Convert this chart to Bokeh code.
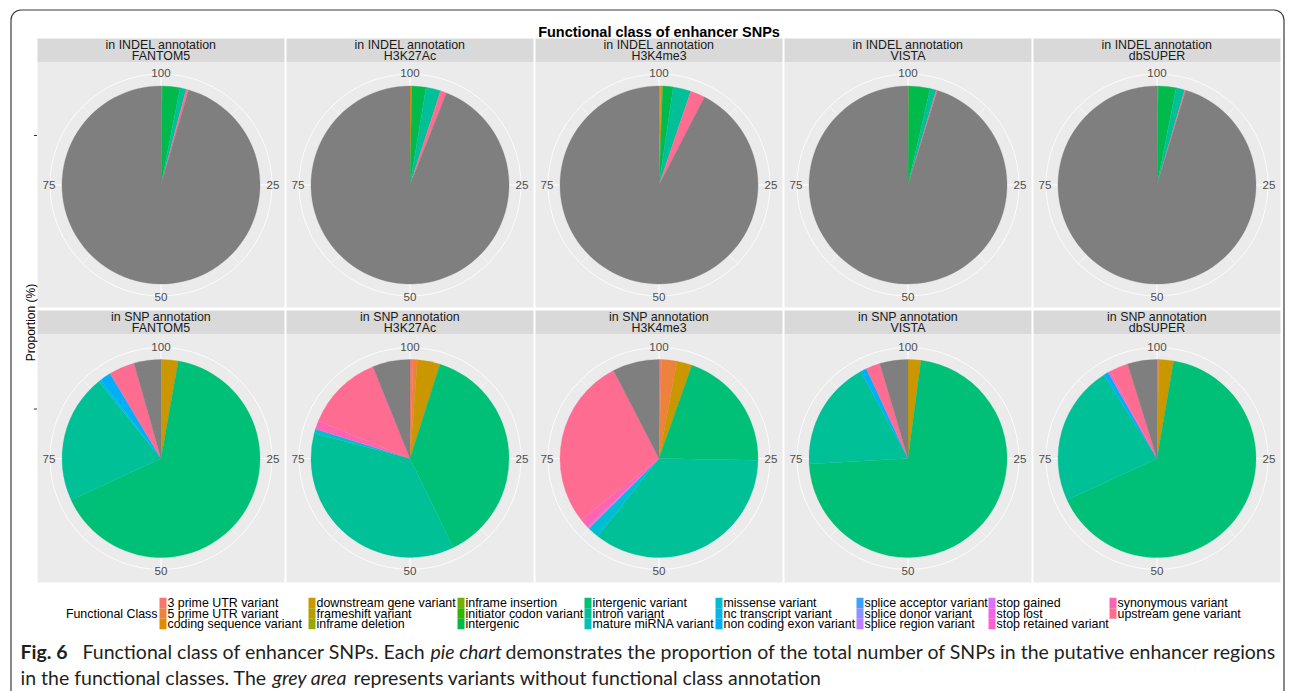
import math
from bokeh.plotting import figure
from bokeh.models import Range1d
from bokeh.core.properties import value
from bokeh.embed import file_html
from bokeh.resources import INLINE

# ---------------- data ----------------
categories = [
    "3 prime UTR variant", "5 prime UTR variant", "coding sequence variant",
    "downstream gene variant", "frameshift variant", "inframe deletion",
    "inframe insertion", "initiator codon variant", "intergenic",
    "intergenic variant", "intron variant", "mature miRNA variant",
    "missense variant", "nc transcript variant", "non coding exon variant",
    "splice acceptor variant", "splice donor variant", "splice region variant",
    "stop gained", "stop lost", "stop retained variant",
    "synonymous variant", "upstream gene variant",
]
databases = ["FANTOM5", "H3K27Ac", "H3K4me3", "VISTA", "dbSUPER"]
annotations = ["in INDEL annotation", "in SNP annotation"]
theta_breaks = [0, 25, 50, 75]
theta_labels = ["100", "25", "50", "75"]

# proportion (%) per functional class; "NA" = no functional class (grey)
indel_fantom5 = {"coding sequence variant": 0.2, "intergenic": 2.9, "intron variant": 1.0,
                 "upstream gene variant": 0.4, "NA": 95.5}
indel_h3k27ac = {"coding sequence variant": 0.3, "intergenic": 2.3, "intron variant": 2.4,
                 "upstream gene variant": 1.0, "NA": 94.0}
indel_h3k4me3 = {"5 prime UTR variant": 0.3, "downstream gene variant": 0.3, "intergenic": 1.7,
                 "intron variant": 2.9, "upstream gene variant": 2.4, "NA": 92.4}
indel_vista = {"coding sequence variant": 0.1, "intergenic": 3.5, "intron variant": 1.0,
               "upstream gene variant": 0.2, "NA": 95.2}
indel_dbsuper = {"coding sequence variant": 0.2, "intergenic": 2.9, "intron variant": 1.4,
                 "upstream gene variant": 0.2, "NA": 95.3}

snp_fantom5 = {"3 prime UTR variant": 0.1, "downstream gene variant": 2.7, "intergenic variant": 65.3,
               "intron variant": 21.1, "missense variant": 0.4, "non coding exon variant": 1.8,
               "upstream gene variant": 4.2, "NA": 4.4}
snp_h3k27ac = {"3 prime UTR variant": 0.5, "5 prime UTR variant": 0.7, "downstream gene variant": 3.7,
               "intergenic variant": 37.9, "intron variant": 36.3, "missense variant": 0.7,
               "synonymous variant": 1.4, "upstream gene variant": 12.7, "NA": 6.1}
snp_h3k4me3 = {"3 prime UTR variant": 0.4, "5 prime UTR variant": 2.5, "downstream gene variant": 2.5,
               "intergenic variant": 19.9, "intron variant": 35.3, "missense variant": 1.9,
               "splice region variant": 0.3, "synonymous variant": 1.6,
               "upstream gene variant": 28.0, "NA": 7.6}
snp_vista = {"downstream gene variant": 2.1, "intergenic variant": 72.0, "intron variant": 18.0,
             "non coding exon variant": 1.0, "upstream gene variant": 2.3, "NA": 4.6}
snp_dbsuper = {"3 prime UTR variant": 0.3, "downstream gene variant": 2.4, "intergenic variant": 65.4,
               "intron variant": 22.9, "non coding exon variant": 0.8, "synonymous variant": 0.4,
               "upstream gene variant": 3.0, "NA": 4.8}

panels = [
    [indel_fantom5, indel_h3k27ac, indel_h3k4me3, indel_vista, indel_dbsuper],
    [snp_fantom5, snp_h3k27ac, snp_h3k4me3, snp_vista, snp_dbsuper],
]

# ---------------- colours (ggplot2 default hue palette) ----------------
def hcl_hex(h, c=100.0, l=65.0):
    WX, WY, WZ = 95.047, 100.0, 108.883
    Y_ = WY * ((l + 16) / 116) ** 3
    t = WX + WY + WZ
    x, y = WX / t, WY / t
    uN = 2 * x / (6 * y - x + 1.5)
    vN = 4.5 * y / (6 * y - x + 1.5)
    U = c * math.cos(math.radians(h))
    V = c * math.sin(math.radians(h))
    u = U / (13 * l) + uN
    v = V / (13 * l) + vN
    X = 9.0 * Y_ * u / (4 * v)
    Z = -X / 3 - 5 * Y_ + 3 * Y_ / v

    def g(a):
        a = a / WY
        a = 1.055 * a ** (1 / 2.4) - 0.055 if a > 0.00304 else 12.92 * a
        return int(round(min(1, max(0, a)) * 255))

    r = g(3.240479 * X - 1.537150 * Y_ - 0.498535 * Z)
    gg = g(-0.969256 * X + 1.875992 * Y_ + 0.041556 * Z)
    b = g(0.055648 * X - 0.204043 * Y_ + 1.057311 * Z)
    return "#%02X%02X%02X" % (r, gg, b)

n = len(categories)
palette = {cat: hcl_hex(15 + 360.0 * i / n) for i, cat in enumerate(categories)}
palette["NA"] = "#7F7F7F"

# ---------------- layout (page pixels) ----------------
W, H = 1292, 691


def Y(py):
    return H - py


col_left = [37, 286, 535, 784, 1033]
col_w = 247
strip_top = [38, 310]
strip_h = 24
panel_bottom = [307, 582]
centre_y = [184.5, 458.0]
R_PIE = 99
R_OUT = 111
R_LAB = 112

FONT = value("Liberation Sans")

p = figure(width=W, height=H, output_backend="svg", toolbar_location=None,
           x_range=Range1d(0, W), y_range=Range1d(0, H),
           min_border=0, outline_line_color=None, background_fill_color="white",
           border_fill_color="white")
p.axis.visible = False
p.grid.visible = False

# outer figure frame with rounded top corners
rc = 10
fc = "#3a3a3a"
p.line([10.5, 10.5], [Y(691), Y(9.5 + rc)], line_color=fc, line_width=1.2)
p.line([1283.5, 1283.5], [Y(691), Y(9.5 + rc)], line_color=fc, line_width=1.2)
p.line([10.5 + rc, 1283.5 - rc], [Y(9.5), Y(9.5)], line_color=fc, line_width=1.2)
p.arc(x=[10.5 + rc], y=[Y(9.5 + rc)], radius=rc, start_angle=math.pi / 2, end_angle=math.pi,
      line_color=fc, line_width=1.2)
p.arc(x=[1283.5 - rc], y=[Y(9.5 + rc)], radius=rc, start_angle=0, end_angle=math.pi / 2,
      line_color=fc, line_width=1.2)

# title
p.text(x=[658.5], y=[Y(31)], text=["Functional class of enhancer SNPs"], text_font=FONT,
       text_font_size="14.5px", text_font_style="bold", text_align="center",
       text_baseline="middle", text_color="black")

# y axis label
p.text(x=[30], y=[Y(322)], text=["Proportion (%)"], text_font=FONT, text_font_size="12px",
       angle=math.pi / 2, text_align="center", text_baseline="middle", text_color="black")

for ri in range(2):
    st = strip_top[ri]
    pt = st + strip_h
    pb = panel_bottom[ri]
    cy = centre_y[ri]
    # r-axis tick
    p.segment(x0=[33.5], y0=[Y(cy - R_PIE / 2)], x1=[36.5], y1=[Y(cy - R_PIE / 2)],
              line_color="#333333", line_width=1)
    for ci in range(5):
        L = col_left[ci]
        Rr = L + col_w
        cx = L + col_w / 2
        # strip and panel backgrounds
        p.quad(left=[L], right=[Rr], top=[Y(st)], bottom=[Y(pt)], fill_color="#D9D9D9",
               line_color=None)
        p.quad(left=[L], right=[Rr], top=[Y(pt)], bottom=[Y(pb)], fill_color="#EBEBEB",
               line_color=None)
        p.text(x=[cx, cx], y=[Y(st + 6.5), Y(st + 17.5)],
               text=[annotations[ri], databases[ci]], text_font=FONT, text_font_size="12.4px",
               text_align="center", text_baseline="middle", text_color="#1A1A1A")
        # polar grid
        p.circle(x=[cx], y=[Y(cy)], radius=R_OUT, fill_color=None, line_color="white",
                 line_width=0.8)
        for k in range(8):
            a = math.pi / 2 - k * math.pi / 4
            p.segment(x0=[cx], y0=[Y(cy)], x1=[cx + R_OUT * math.cos(a)],
                      y1=[Y(cy) + R_OUT * math.sin(a)], line_color="white",
                      line_width=1.0 if k % 2 == 0 else 0.5)
        # pie slices, clockwise from 12 o'clock
        d = panels[ri][ci]
        order = [c for c in categories if c in d] + ["NA"]
        starts, ends, cols = [], [], []
        cum = 0.0
        for c in order:
            v = d[c]
            starts.append(math.pi / 2 - 2 * math.pi * cum / 100.0)
            cum += v
            ends.append(math.pi / 2 - 2 * math.pi * cum / 100.0)
            cols.append(palette[c])
        p.wedge(x=[cx] * len(order), y=[Y(cy)] * len(order), radius=R_PIE,
                start_angle=starts, end_angle=ends, direction="clock",
                fill_color=cols, line_color=cols, line_width=0.3)
        # theta labels
        lx = [cx + R_LAB * math.sin(2 * math.pi * b / 100.0) for b in theta_breaks]
        ly = [Y(cy) + R_LAB * math.cos(2 * math.pi * b / 100.0) for b in theta_breaks]
        p.text(x=lx, y=ly, text=theta_labels, text_font=FONT, text_font_size="11.6px",
               text_align="center", text_baseline="middle", text_color="#4D4D4D")

# legend
leg_cols_x = [159, 308, 457, 584, 715, 856, 988, 1109]
leg_rows_y = [602.5, 613.0, 623.5]
key_h = 10.5
p.text(x=[157], y=[Y(613)], text=["Functional Class"], text_font=FONT, text_font_size="12.4px",
       text_align="right", text_baseline="middle", text_color="black")
for i, cat in enumerate(categories):
    kx = leg_cols_x[i // 3]
    ky = leg_rows_y[i % 3]
    p.quad(left=[kx], right=[kx + 7], top=[Y(ky - key_h / 2)], bottom=[Y(ky + key_h / 2)],
           fill_color=palette[cat], line_color=None)
    p.text(x=[kx + 8], y=[Y(ky)], text=[cat], text_font=FONT, text_font_size="12.4px",
           text_align="left", text_baseline="middle", text_color="black")

# caption
CAP = value("Lato")
cap_size = "19.5px"
cap_color = "#231F20"
segments = [
    (20, 651, "Fig. 6", "bold"),
    (82, 651, "Functional class of enhancer SNPs. Each", "normal"),
    (430, 651, "pie chart", "italic"),
    (505, 651, "demonstrates the proportion of the total number of SNPs in the putative enhancer regions", "normal"),
    (20, 677, "in the functional classes. The", "normal"),
    (272, 677, "grey area", "italic"),
    (353, 677, "represents variants without functional class annotation", "normal"),
]
for sx, sy, s, style in segments:
    p.text(x=[sx], y=[Y(sy)], text=[s], text_font=CAP, text_font_size=cap_size,
           text_font_style=style, text_align="left", text_baseline="middle",
           text_color=cap_color)

open("out.html", "w").write(file_html(p, INLINE))
